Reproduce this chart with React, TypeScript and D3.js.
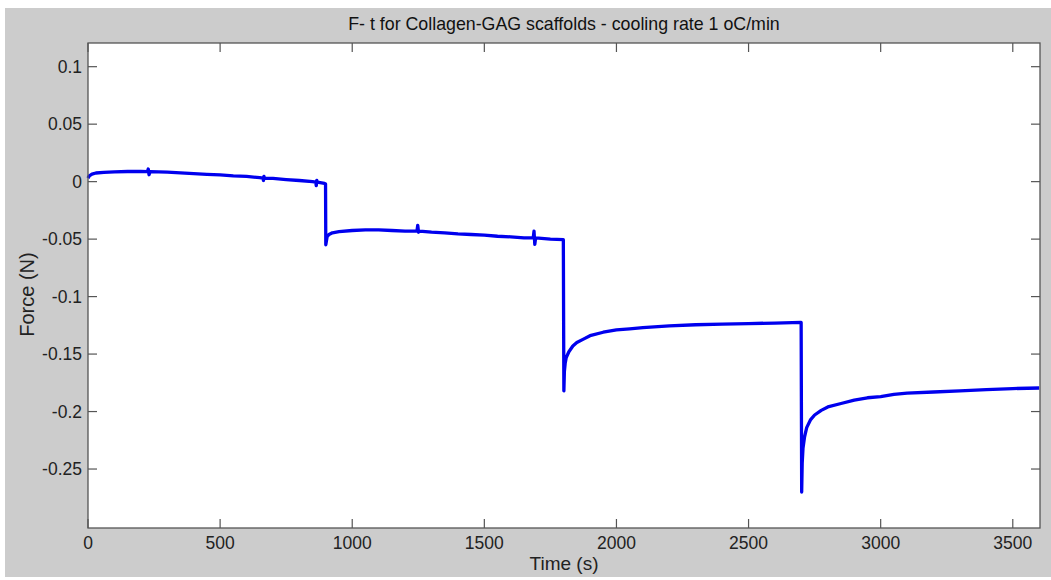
import * as d3 from "d3";

// Force–time trace (s, N)
const times = [
  0, 5, 15, 30, 60, 100, 150, 200, 225, 228, 231, 235, 300, 350, 400, 450, 500, 550, 600, 650,
  662, 664, 666, 668, 700, 750, 800, 850, 862, 864, 866, 868, 895, 899,
  900, 902, 905, 912, 925, 950, 1000, 1050, 1100, 1150, 1200, 1245, 1248, 1251, 1255, 1300,
  1350, 1400, 1450, 1500, 1550, 1600, 1650, 1685, 1688, 1691, 1694, 1750, 1799,
  1801, 1803, 1806, 1810, 1820, 1835, 1850, 1875, 1900, 1950, 2000, 2050, 2100, 2200, 2300,
  2400, 2500, 2600, 2699,
  2701, 2703, 2706, 2712, 2720, 2735, 2750, 2775, 2800, 2850, 2900, 2950, 3000, 3050, 3100,
  3200, 3300, 3400, 3500, 3600,
];
const forces = [
  0.003, 0.005, 0.0065, 0.0075, 0.008, 0.0085, 0.0088, 0.0088, 0.0087, 0.011, 0.006, 0.0087,
  0.0082, 0.0076, 0.007, 0.0063, 0.0058, 0.005, 0.0045, 0.0035, 0.003, 0.001, 0.0045, 0.003,
  0.0028, 0.0018, 0.001, 0.0, -0.0005, -0.0035, 0.001, -0.0005, -0.0015, -0.002,
  -0.055, -0.052, -0.048, -0.046, -0.0445, -0.0435, -0.0425, -0.042, -0.042, -0.0425, -0.043,
  -0.043, -0.038, -0.044, -0.043, -0.044, -0.0445, -0.0455, -0.046, -0.0465, -0.0475, -0.048,
  -0.049, -0.049, -0.043, -0.0545, -0.049, -0.05, -0.0505,
  -0.182, -0.165, -0.158, -0.153, -0.148, -0.143, -0.14, -0.137, -0.134, -0.131, -0.129,
  -0.128, -0.127, -0.1255, -0.1245, -0.124, -0.1235, -0.123, -0.1225,
  -0.27, -0.245, -0.232, -0.222, -0.214, -0.207, -0.203, -0.199, -0.196, -0.193, -0.19, -0.188,
  -0.187, -0.185, -0.184, -0.183, -0.182, -0.181, -0.18, -0.1795,
];
const xTicks = [0, 500, 1000, 1500, 2000, 2500, 3000, 3500];
const yTicks = [0.1, 0.05, 0, -0.05, -0.1, -0.15, -0.2, -0.25];
const yTickLabels = ["0.1", "0.05", "0", "-0.05", "-0.1", "-0.15", "-0.2", "-0.25"];

const title = "F- t for Collagen-GAG scaffolds - cooling rate 1 oC/min";

export default function App() {
  const width = 1051;
  const height = 580;
  const left = 88;
  const right = 1040;
  const top = 43;
  const bottom = 528;
  const tick = 9;
  const font = "'Liberation Sans', Arial, sans-serif";

  const x = d3.scaleLinear().domain([0, 3603]).range([left, right]);
  const y = d3.scaleLinear().domain([-0.3013, 0.1206]).range([bottom, top]);

  const line = d3
    .line<number>()
    .x((_, i) => x(times[i]))
    .y((d) => y(d));

  return (
    <svg
      width={width}
      height={height}
      style={{ position: "absolute", left: 0, top: 0, display: "block" }}
      fontFamily={font}
    >
      <rect x={0} y={0} width={width} height={height} fill="#ffffff" />
      <rect x={5} y={8} width={width - 5} height={569} fill="#cccccc" />
      <rect x={left} y={top} width={right - left} height={bottom - top} fill="#ffffff" />

      <path d={line(forces) || ""} fill="none" stroke="#0000ee" strokeWidth={3.3} strokeLinejoin="round" />

      {/* box and ticks */}
      <rect x={left} y={top} width={right - left} height={bottom - top} fill="none" stroke="#555" strokeWidth={1.3} />
      {xTicks.map((t) => (
        <g key={"x" + t}>
          <line x1={x(t)} x2={x(t)} y1={bottom} y2={bottom - tick} stroke="#555" strokeWidth={1.2} />
          <line x1={x(t)} x2={x(t)} y1={top} y2={top + tick} stroke="#555" strokeWidth={1.2} />
          <text x={x(t)} y={549} textAnchor="middle" fontSize={17.5} fill="#222">
            {t}
          </text>
        </g>
      ))}
      {yTicks.map((t, i) => (
        <g key={"y" + i}>
          <line x1={left} x2={left + tick} y1={y(t)} y2={y(t)} stroke="#555" strokeWidth={1.2} />
          <line x1={right} x2={right - tick} y1={y(t)} y2={y(t)} stroke="#555" strokeWidth={1.2} />
          <text x={82} y={y(t)} dy="0.35em" textAnchor="end" fontSize={17.5} fill="#222">
            {yTickLabels[i]}
          </text>
        </g>
      ))}

      <text x={(left + right) / 2} y={30} textAnchor="middle" fontSize={17.8} fill="#111">
        {title}
      </text>
      <text x={(left + right) / 2} y={570} textAnchor="middle" fontSize={19} fill="#222">
        Time (s)
      </text>
      <text
        transform={`translate(34,${(top + bottom) / 2 + 9}) rotate(-90)`}
        textAnchor="middle"
        fontSize={20}
        fill="#222"
      >
        Force (N)
      </text>
    </svg>
  );
}
